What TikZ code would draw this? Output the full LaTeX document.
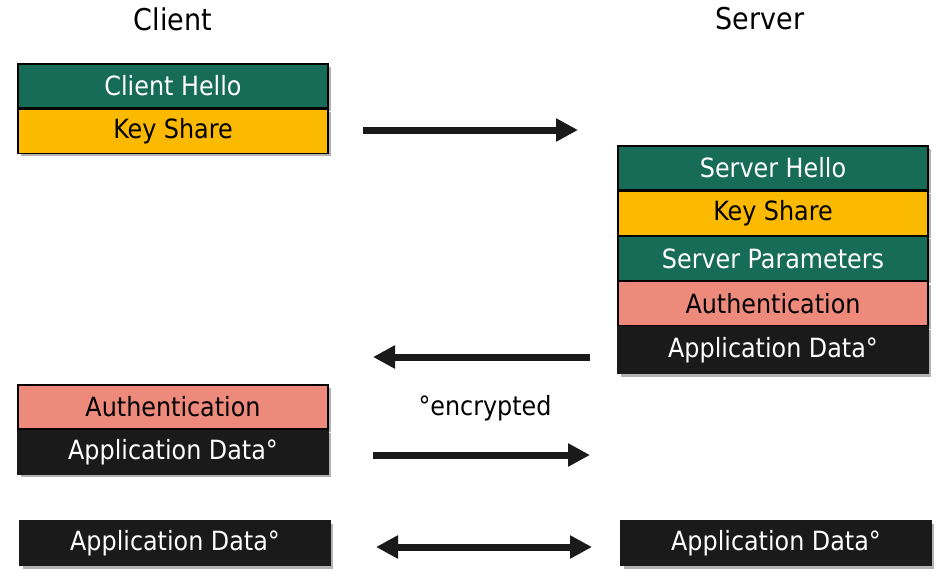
\documentclass[tikz,border=0pt]{standalone}
\usepackage{fontspec}
\setmainfont{DejaVu Sans Condensed}
\usetikzlibrary{positioning,arrows.meta,shadows}
\definecolor{hsgreen}{HTML}{176C58}
\definecolor{hsyellow}{HTML}{FBBA00}
\definecolor{hssalmon}{HTML}{EE8A7C}
\definecolor{hsblack}{HTML}{1A1A1A}
\begin{document}
\begin{tikzpicture}[x=1pt,y=-1pt,font=\fontsize{26.5}{30}\selectfont,
	msg/.style={draw=black,line width=1.2pt,minimum width=310pt,minimum height=44pt,inner sep=0pt,
		drop shadow={shadow xshift=3pt,shadow yshift=-3pt,opacity=0.3,fill=black}},
	green/.style={msg,fill=hsgreen,text=white},
	yellow/.style={msg,fill=hsyellow,text=black},
	salmon/.style={msg,fill=hssalmon,text=black},
	dark/.style={msg,fill=hsblack,draw=hsblack,text=white},
	flow/.style={line width=7pt,-{Triangle[length=22pt,width=22pt]},hsblack}]
	\useasboundingbox (0,0) rectangle (946,582);
	% titles
	\node (client) at (173,19) {\fontsize{30}{34}\selectfont Client};
	\node (server) at (760,19) {\fontsize{30}{34}\selectfont Server};
	% client side
	\node[green] (chello) at (173,86) {Client Hello};
	\node[yellow,below=0pt of chello] (ckey) {Key Share};
	\node[salmon] (cauth) at (173,407) {Authentication};
	\node[dark,below=0pt of cauth] (cdata) {Application Data°};
	\node[dark,minimum height=45pt] (cdata2) at (175,543) {Application Data°};
	% server side
	\node[green] (shello) at (773,168) {Server Hello};
	\node[yellow,below=0pt of shello] (skey) {Key Share};
	\node[green,below=0pt of skey] (sparam) {Server Parameters};
	\node[salmon,below=0pt of sparam] (sauth) {Authentication};
	\node[dark,minimum height=47pt,below=0pt of sauth] (sdata) {Application Data°};
	\node[dark,minimum height=45pt] (sdata2) at (776,543) {Application Data°};
	\node (enc) at (485,408) {°encrypted};
	% arrows
	\coordinate (a1) at (363,130); \coordinate (b1) at (578,130);
	\coordinate (a2) at (590,357); \coordinate (b2) at (373,357);
	\coordinate (a3) at (373,455); \coordinate (b3) at (590,455);
	\coordinate (a4) at (376,547); \coordinate (b4) at (592,547);
	\draw[flow] (a1)--(b1);
	\draw[flow] (a2)--(b2);
	\draw[flow] (a3)--(b3);
	\draw[flow,{Triangle[length=22pt,width=22pt]}-{Triangle[length=22pt,width=22pt]}] (a4)--(b4);
\end{tikzpicture}
\end{document}
